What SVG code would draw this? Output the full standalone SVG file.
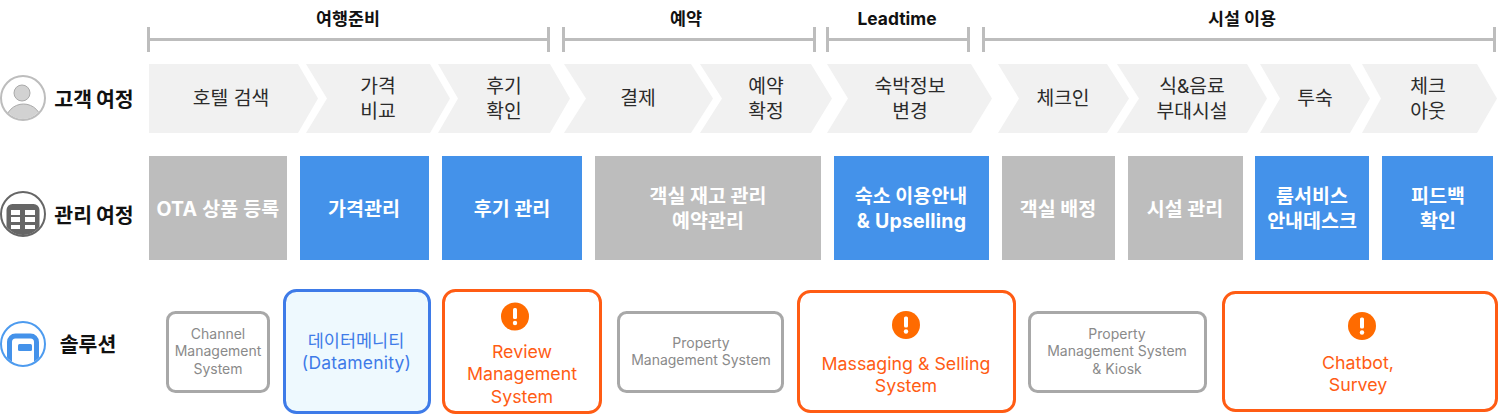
<svg xmlns="http://www.w3.org/2000/svg" width="1498" height="420" viewBox="0 0 1498 420">
<style>
text{font-family:Inter,"Noto Sans CJK KR",sans-serif;text-anchor:middle}
.h{font-size:17.400px;font-weight:700;fill:#111}
.r{font-size:20.500px;font-weight:700;fill:#111;word-spacing:-1px}
.c{font-size:19.300px;fill:#2b2b2b}
.m{font-size:19.500px;font-weight:700;fill:#fff}
.lat{letter-spacing:.2px}
.s{font-size:14px;fill:#8a8a8a}
.o{font-size:17.800px;fill:#ff5c14}
.bl{font-size:17.500px;fill:#3e7be8}
.gb{fill:#bdbdbd}.bb{fill:#4492ea}
.chev{fill:#f1f1f1}
.gs{fill:#fff;stroke:#a8a8a8;stroke-width:3}
.os{fill:#fff;stroke:#ff5c14;stroke-width:3}
.br{stroke:#bdbdbd;stroke-width:3;fill:none}
</style>
<defs>
<g id="warn"><circle r="14" fill="#ff6b00"/><rect x="-2" y="-8.500" width="4" height="11" rx="1.500" fill="#fff"/><circle cy="6.500" r="2.200" fill="#fff"/></g>
<clipPath id="c1"><circle cx="23" cy="98" r="21"/></clipPath>
<clipPath id="c2"><circle cx="23" cy="214" r="21"/></clipPath>
<clipPath id="c3"><circle cx="23" cy="344" r="21"/></clipPath>
</defs>
<g id="connectors">
<path class="br" d="M148.500 27V52M148.500 39.500H548.500M548.500 27V52"/>
<path class="br" d="M563.500 27V52M563.500 39.500H814.500M814.500 27V52"/>
<path class="br" d="M827.500 27V52M827.500 39.500H968.500M968.500 27V52"/>
<path class="br" d="M983.500 27V52M983.500 39.500H1494.500M1494.500 27V52"/>
</g>
<g id="phase-labels">
<text class="h" x="348" y="25">여행준비</text>
<text class="h" x="686" y="25">예약</text>
<text class="h" x="897" y="25">Leadtime</text>
<text class="h" x="1242" y="25">시설 이용</text>
</g>
<g id="row-customer">
<circle cx="23" cy="98" r="22" fill="#fff" stroke="#bdbdbd" stroke-width="2"/>
<g clip-path="url(#c1)"><ellipse cx="23.500" cy="122" rx="18" ry="18" fill="#d2d2d2" stroke="#aaa"/></g>
<circle cx="22" cy="93" r="8" fill="#d2d2d2" stroke="#aaa"/>
<text class="r" x="94" y="107">고객 여정</text>
</g>
<g id="row-manage"><circle cx="23" cy="214" r="22" fill="#fff" stroke="#666" stroke-width="2"/>
<g clip-path="url(#c2)"><rect x="6.500" y="204" width="33" height="45" rx="6" fill="#666"/></g>
<path fill="#fff" d="M11 210h9v5h-9zM25 210h10v5h-10zM11 217h9v5h-9zM25 217h10v5h-10zM11 225h9v4h-9zM25 225h10v4h-10z"/>
<text class="r" x="94" y="223">관리 여정</text></g>
<g id="row-solution"><circle cx="23" cy="344" r="22" fill="#fff" stroke="#4d9bef" stroke-width="2"/>
<g clip-path="url(#c3)"><path d="M9.500 370V342a6 6 0 0 1 6-6h15a6 6 0 0 1 6 6V370" fill="none" stroke="#4492ea" stroke-width="5"/></g>
<rect x="18" y="344" width="14" height="7" rx="1.500" fill="#4492ea"/>
<text class="r" x="88" y="352">솔루션</text></g>

<g id="j1"><path class="chev" d="M149 64H298L318 98.500L298 133H149Z"/><text class="c" x="231" y="105">호텔 검색</text></g>
<g id="j2"><path class="chev" d="M306 64H430L450 98.500L430 133H306L327 98.500Z"/><text class="c" x="378" y="93">가격</text><text class="c" x="378" y="118">비교</text></g>
<g id="j3"><path class="chev" d="M438 64H550L570 98.500L550 133H438L458 98.500Z"/><text class="c" x="504" y="93">후기</text><text class="c" x="504" y="118">확인</text></g>
<g id="j4"><path class="chev" d="M564 64H691L713 98.500L691 133H564L586 98.500Z"/><text class="c" x="638" y="105">결제</text></g>
<g id="j5"><path class="chev" d="M700 64H811L832 98.500L811 133H700L722 98.500Z"/><text class="c" x="766" y="93">예약</text><text class="c" x="766" y="118">확정</text></g>
<g id="j6"><path class="chev" d="M827 64H971L992 98.500L971 133H827L848 98.500Z"/><text class="c" x="910" y="93">숙박정보</text><text class="c" x="910" y="118">변경</text></g>
<g id="j7"><path class="chev" d="M998 64H1107L1129 98.500L1107 133H998L1019 98.500Z"/><text class="c" x="1063" y="105">체크인</text></g>
<g id="j8"><path class="chev" d="M1117 64H1247L1267 98.500L1247 133H1117L1139 98.500Z"/><text class="c" x="1192" y="93">식&amp;음료</text><text class="c" x="1192" y="118">부대시설</text></g>
<g id="j9"><path class="chev" d="M1260 64H1350L1370 98.500L1350 133H1260L1280 98.500Z"/><text class="c" x="1315" y="105">투숙</text></g>
<g id="j10"><path class="chev" d="M1362 64H1477L1497 98.500L1477 133H1362L1381 98.500Z"/><text class="c" x="1428" y="93">체크</text><text class="c" x="1428" y="118">아웃</text></g>

<g id="m1"><rect class="gb" x="149" y="156" width="138" height="104"/><text class="m lat" x="218" y="215.500">OTA 상품 등록</text></g>
<g id="m2"><rect class="bb" x="300" y="156" width="129" height="104"/><text class="m" x="364" y="215.500">가격관리</text></g>
<g id="m3"><rect class="bb" x="442" y="156" width="140" height="104"/><text class="m" x="512" y="215.500">후기 관리</text></g>
<g id="m4"><rect class="gb" x="595" y="156" width="226" height="104"/><text class="m" x="708" y="203">객실 재고 관리</text><text class="m" x="708" y="228">예약관리</text></g>
<g id="m5"><rect class="bb" x="834" y="156" width="155" height="104"/><text class="m" x="911" y="203">숙소 이용안내</text><text class="m lat" x="911.500" y="228">&amp; Upselling</text></g>
<g id="m6"><rect class="gb" x="1002" y="156" width="113" height="104"/><text class="m" x="1058" y="215.500">객실 배정</text></g>
<g id="m7"><rect class="gb" x="1128" y="156" width="115" height="104"/><text class="m" x="1185" y="215.500">시설 관리</text></g>
<g id="m8"><rect class="bb" x="1255" y="156" width="114" height="104"/><text class="m" x="1312" y="203">룸서비스</text><text class="m" x="1312" y="228">안내데스크</text></g>
<g id="m9"><rect class="bb" x="1382" y="156" width="111" height="104"/><text class="m" x="1438" y="203">피드백</text><text class="m" x="1438" y="228">확인</text></g>

<g id="s1"><rect class="gs" x="167.500" y="312.500" width="101" height="79" rx="8"/><text class="s" x="218" y="339">Channel</text><text class="s" x="218" y="356">Management</text><text class="s" x="218" y="374">System</text></g>
<g id="s2"><rect x="284.500" y="290.500" width="145" height="122" rx="12" fill="#eef9fe" stroke="#3e7be8" stroke-width="3"/><text class="bl" x="356" y="346.500">데이터메니티</text><text class="bl lat" x="356.500" y="369">(Datamenity)</text></g>
<g id="s3"><rect class="os" x="443.500" y="290.500" width="157" height="122" rx="12"/><use href="#warn" x="515" y="316.500"/><text class="o" x="522" y="358">Review</text><text class="o" x="522" y="380">Management</text><text class="o" x="522" y="403">System</text></g>
<g id="s4"><rect class="gs" x="618.500" y="312.500" width="164" height="79" rx="8"/><text class="s" x="701" y="348">Property</text><text class="s" x="701" y="365">Management System</text></g>
<g id="s5"><rect class="os" x="798.500" y="291.500" width="216" height="120" rx="12"/><use href="#warn" x="906" y="325"/><text class="o" x="906" y="370">Massaging &amp; Selling</text><text class="o" x="906" y="392">System</text></g>
<g id="s6"><rect class="gs" x="1029.500" y="312.500" width="176" height="79" rx="8"/><text class="s" x="1117" y="339">Property</text><text class="s" x="1117" y="356">Management System</text><text class="s" x="1117" y="374">&amp; Kiosk</text></g>
<g id="s7"><rect class="os" x="1223.500" y="292.500" width="273" height="118" rx="12"/><use href="#warn" x="1362" y="326"/><text class="o" x="1358" y="369">Chatbot,</text><text class="o" x="1358" y="391">Survey</text></g>
</svg>
